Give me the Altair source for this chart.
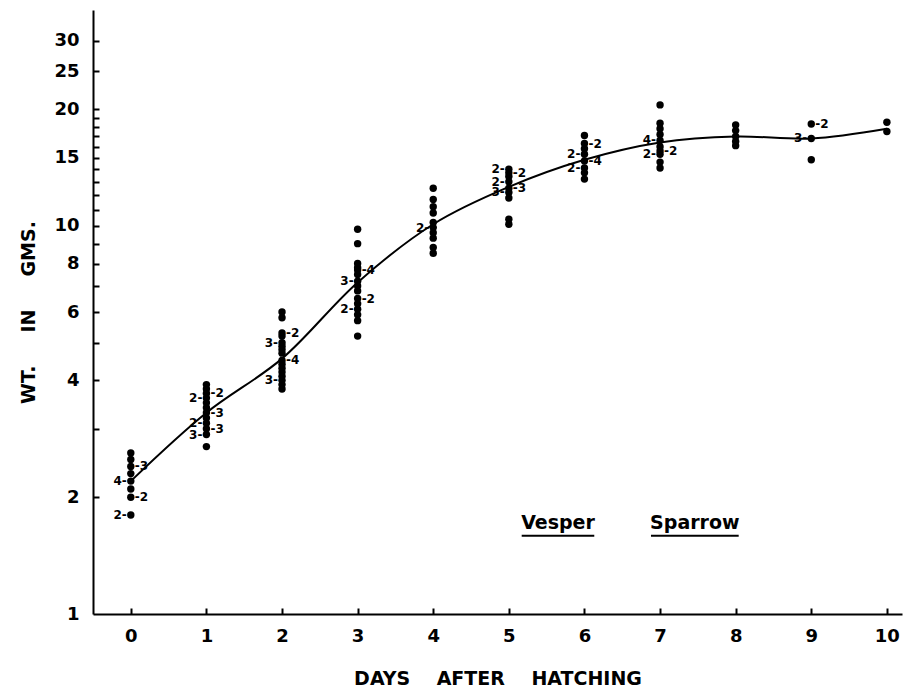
import altair as alt
import pandas as pd

# ---------------- data ----------------
days = list(range(11))

w0 = [2.6, 2.5, 2.4, 2.3, 2.2, 2.1, 2.0, 1.8]
w1 = [3.9, 3.8, 3.7, 3.6, 3.5, 3.4, 3.3, 3.2, 3.1, 3.0, 2.9, 2.7]
w2 = [6.0, 5.8, 5.3, 5.2, 5.0, 4.9, 4.8, 4.7, 4.5, 4.4, 4.3, 4.2, 4.1, 4.0, 3.9, 3.8]
w3 = [9.8, 9.0, 8.0, 7.8, 7.7, 7.5, 7.2, 7.0, 6.8, 6.5, 6.3, 6.1, 5.9, 5.7, 5.2]
w4 = [12.5, 11.7, 11.2, 10.8, 10.2, 9.9, 9.6, 9.3, 8.8, 8.5]
w5 = [14.0, 13.7, 13.4, 13.0, 12.5, 12.2, 11.8, 10.4, 10.1]
w6 = [17.1, 16.3, 15.8, 15.3, 14.7, 14.1, 13.7, 13.2]
w7 = [20.5, 18.4, 17.8, 17.2, 16.6, 16.0, 15.6, 15.3, 14.6, 14.1]
w8 = [18.2, 17.6, 17.0, 16.5, 16.1]
w9 = [18.3, 16.8, 14.8]
w10 = [18.5, 17.5]
weights = [w0, w1, w2, w3, w4, w5, w6, w7, w8, w9, w10]

mean_wt = [2.2, 3.3, 4.55, 7.15, 10.1, 12.6, 14.8, 16.4, 17.0, 16.8, 17.8]

# count labels drawn to the left of a dot
left_day = [0, 0, 1, 1, 1, 2, 2, 3, 3, 4, 5, 5, 5, 6, 6, 7, 7, 9]
left_wt = [2.2, 1.8, 3.6, 3.1, 2.9, 5.0, 4.0, 7.2, 6.1, 9.9, 14.0, 13.0, 12.2, 15.3, 14.1, 16.6, 15.3, 16.8]
left_n = [4, 2, 2, 2, 3, 3, 3, 3, 2, 2, 2, 2, 3, 2, 2, 4, 2, 3]

# count labels drawn to the right of a dot
right_day = [0, 0, 1, 1, 1, 2, 2, 3, 3, 5, 5, 6, 6, 7, 9]
right_wt = [2.4, 2.0, 3.7, 3.3, 3.0, 5.3, 4.5, 7.7, 6.5, 13.7, 12.5, 16.3, 14.7, 15.6, 18.3]
right_n = [3, 2, 2, 3, 3, 2, 4, 4, 2, 2, 3, 2, 4, 2, 2]

y_label_values = [1, 2, 4, 6, 8, 10, 15, 20, 25, 30]
y_tick_values = [2, 3, 4, 5, 6, 7, 8, 9, 10, 11, 12, 13, 14, 15, 16, 17, 18, 19, 20, 25, 30]
x_tick_values = days

species_words = ["Vesper", "Sparrow"]
species_day = [5.65, 7.46]
species_wt = [1.714, 1.714]
underline_x1 = [5.17, 6.88]
underline_x2 = [6.13, 8.04]
underline_wt = [1.59, 1.59]

# ---------------- tables ----------------
pts = pd.DataFrame([{"day": d, "wt": w} for d, ws in zip(days, weights) for w in ws])
means = pd.DataFrame({"day": days, "wt": mean_wt})
left = pd.DataFrame({"day": left_day, "wt": left_wt, "lab": [f"{n}-" for n in left_n]})
right = pd.DataFrame({"day": right_day, "wt": right_wt, "lab": [f"-{n}" for n in right_n]})
anno = pd.DataFrame({"day": species_day, "wt": species_wt, "txt": species_words})
ul = pd.DataFrame({"x1": underline_x1, "x2": underline_x2, "wt": underline_wt})

W, H = 809, 604
FONT = "DejaVu Sans"
NB = "\u00a0"

xscale = alt.Scale(domain=[-0.5, 10.2], nice=False, zero=False)
yscale = alt.Scale(type="log", domain=[1, 36], nice=False)

x_main = alt.X(
    "day:Q", scale=xscale,
    axis=alt.Axis(values=x_tick_values, format="d", ticks=False, grid=False,
                  domainColor="black", domainWidth=2,
                  labelFont=FONT, labelFontSize=18, labelFontWeight="bold",
                  labelColor="black", labelPadding=13,
                  title=f"DAYS{NB * 4}AFTER{NB * 4}HATCHING",
                  titleFont=FONT, titleFontSize=19, titleFontWeight="bold",
                  titleColor="black", titlePadding=24),
)
y_main = alt.Y(
    "wt:Q", scale=yscale,
    axis=alt.Axis(values=y_label_values, format="d", ticks=False, grid=False,
                  domainColor="black", domainWidth=2,
                  labelFont=FONT, labelFontSize=18, labelFontWeight="bold",
                  labelColor="black", labelPadding=14,
                  title=f"WT.{NB * 5}IN{NB * 5}GMS.",
                  titleFont=FONT, titleFontSize=19, titleFontWeight="bold",
                  titleColor="black", titlePadding=15),
)

x_ticks = alt.X(
    "day:Q", scale=xscale,
    axis=alt.Axis(orient="top", offset=-H, values=x_tick_values, labels=False,
                  domain=False, tickSize=6, tickWidth=2, tickColor="black",
                  grid=False, title=None),
)
y_ticks = alt.Y(
    "wt:Q", scale=yscale,
    axis=alt.Axis(orient="right", offset=-W, values=y_tick_values, labels=False,
                  domain=False, tickSize=6, tickWidth=2, tickColor="black",
                  grid=False, title=None),
)

x_none = alt.X("day:Q", scale=xscale, axis=None)
y_none = alt.Y("wt:Q", scale=yscale, axis=None)

points = alt.Chart(pts).mark_circle(size=55, color="black", opacity=1).encode(x=x_main, y=y_main)

line = alt.Chart(means).mark_line(color="black", strokeWidth=2, interpolate="catmull-rom").encode(
    x=x_ticks, y=y_ticks)

ltxt = alt.Chart(left).mark_text(align="right", baseline="middle", dx=-4, font=FONT,
                                 fontSize=12, fontWeight="bold", color="black").encode(
    x=x_none, y=y_none, text="lab:N")
rtxt = alt.Chart(right).mark_text(align="left", baseline="middle", dx=4, font=FONT,
                                  fontSize=12, fontWeight="bold", color="black").encode(
    x=x_none, y=y_none, text="lab:N")

atxt = alt.Chart(anno).mark_text(align="center", baseline="middle", font=FONT,
                                 fontSize=19, fontWeight="bold", color="black").encode(
    x=x_none, y=y_none, text="txt:N")
urule = alt.Chart(ul).mark_rule(color="black", strokeWidth=2).encode(
    x=alt.X("x1:Q", scale=xscale, axis=None), x2="x2:Q",
    y=alt.Y("wt:Q", scale=yscale, axis=None))

chart = (
    alt.layer(points, line, ltxt, rtxt, atxt, urule)
    .resolve_axis(x="independent", y="independent")
    .properties(width=W, height=H, background="white",
                autosize=alt.AutoSizeParams(type="none"),
                padding={"left": 85, "top": 2, "right": 2, "bottom": 78})
    .configure_view(stroke=None)
)

chart.save("out.html", embed_options={"renderer": "svg", "actions": False})
